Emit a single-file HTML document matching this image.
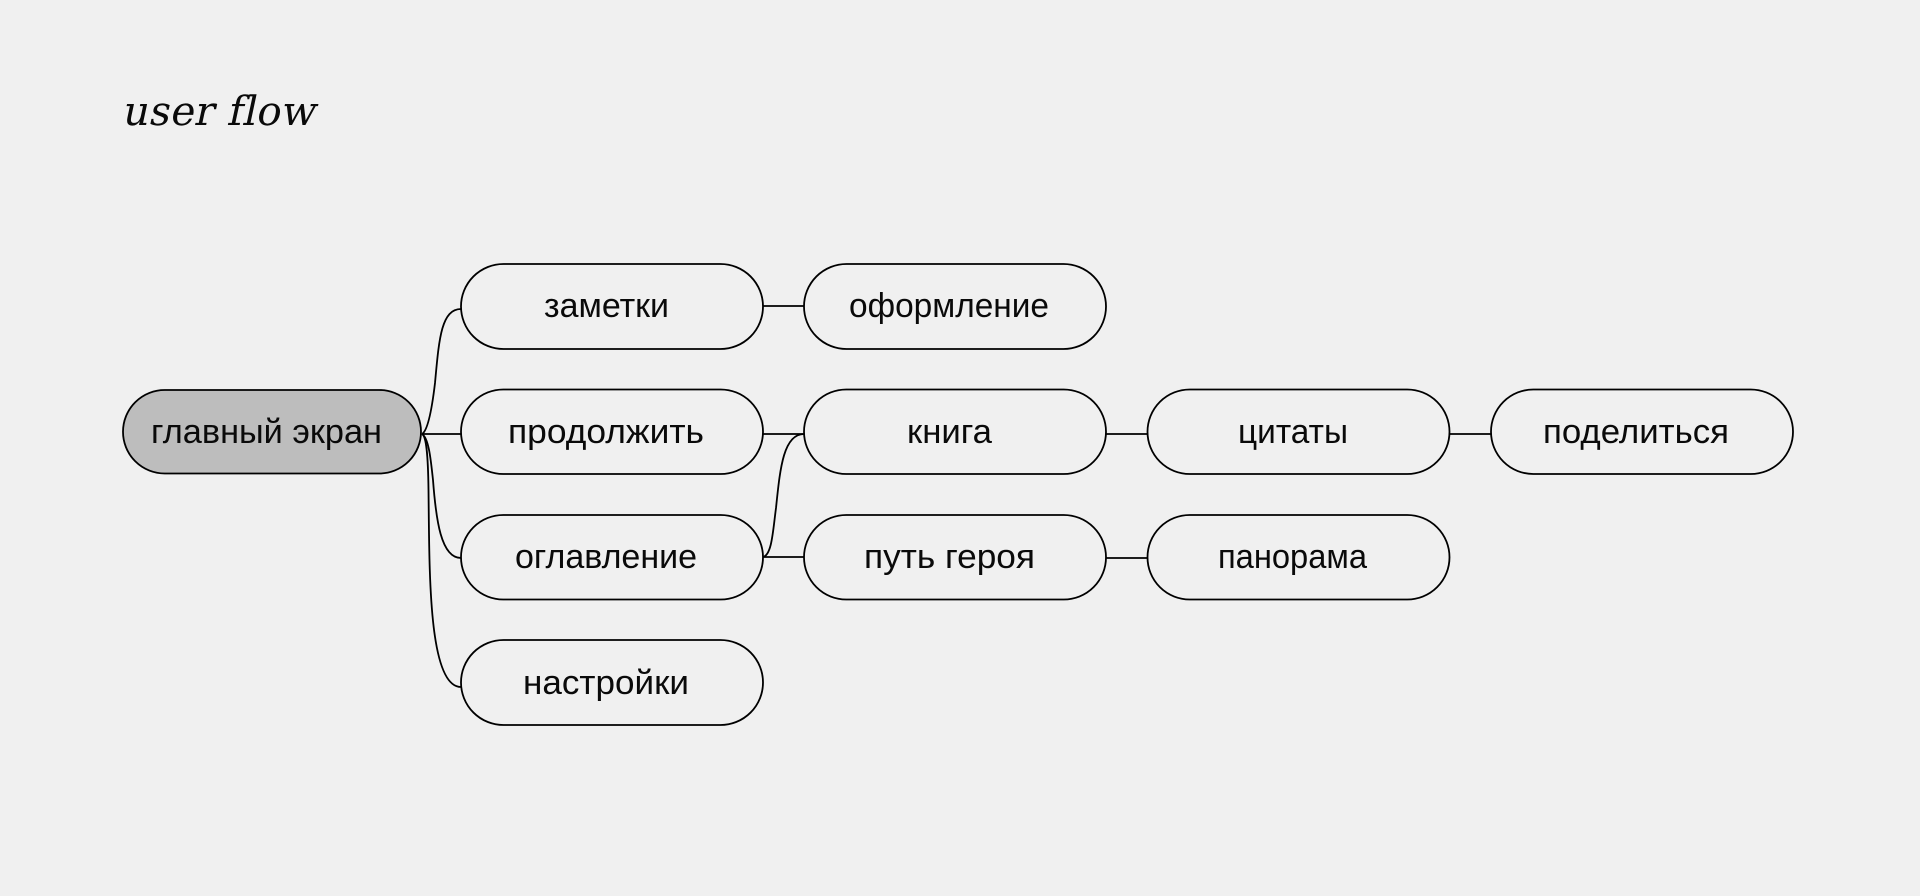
<!DOCTYPE html>
<html lang="ru">
<head>
<meta charset="utf-8">
<title>user flow</title>
<style>
html,body{margin:0;padding:0;width:1920px;height:896px;overflow:hidden;background:#f0f0f0}
svg{display:block}
.t{font-family:"Liberation Sans","DejaVu Sans",sans-serif;font-size:34px;fill:#0a0a0a}
</style>
</head>
<body>
<svg width="1920" height="896" viewBox="0 0 1920 896" xmlns="http://www.w3.org/2000/svg">
<rect width="1920" height="896" fill="#f0f0f0"/>
<text transform="translate(121.500 125) skewX(-12)" x="0" y="0" font-family="'DejaVu Serif',serif" font-size="40.500" fill="#0a0a0a" textLength="193" lengthAdjust="spacing" style="font-variant-ligatures:none">user flow</text>
<g fill="none" stroke="#000" stroke-width="1.8">
<path d="M422 434C429 430 433 400 435 383C439 340 441 309 461 309"/>
<path d="M422 434H461"/>
<path d="M422 434C429 438 431 462 433 480C436 520 441 558 461 558"/>
<path d="M422 434C426 436 428 452 428.500 490C429.500 570 428 687 461 687"/>
<path d="M763 306H804"/>
<path d="M763 434H804"/>
<path d="M763 557H804"/>
<path d="M763 557C772 555 773 530 776 508C780 470 783 434 804 434"/>
<path d="M1106 434H1147"/>
<path d="M1106 558H1147"/>
<path d="M1449 434H1491"/>
<rect x="123" y="390" width="298" height="83.500" rx="41.750" fill="#bdbdbd"/>
<rect x="461" y="264" width="302" height="85" rx="42.500"/>
<rect x="461" y="389.500" width="302" height="84.500" rx="42.250"/>
<rect x="461" y="515" width="302" height="84.500" rx="42.250"/>
<rect x="461" y="640" width="302" height="85" rx="42.500"/>
<rect x="804" y="264" width="302" height="85" rx="42.500"/>
<rect x="804" y="389.500" width="302" height="84.500" rx="42.250"/>
<rect x="804" y="515" width="302" height="84.500" rx="42.250"/>
<rect x="1147.500" y="389.500" width="302" height="84.500" rx="42.250"/>
<rect x="1147.500" y="515" width="302" height="84.500" rx="42.250"/>
<rect x="1491" y="389.500" width="302" height="84.500" rx="42.250"/>
</g>
<g class="t">
<text class="t" x="151" y="443" textLength="231" lengthAdjust="spacingAndGlyphs">главный экран</text>
<text class="t" x="544" y="317" textLength="125" lengthAdjust="spacingAndGlyphs">заметки</text>
<text class="t" x="508" y="443" textLength="196" lengthAdjust="spacingAndGlyphs">продолжить</text>
<text class="t" x="515" y="568" textLength="182" lengthAdjust="spacingAndGlyphs">оглавление</text>
<text class="t" x="523" y="694" textLength="166" lengthAdjust="spacingAndGlyphs">настройки</text>
<text class="t" x="849" y="317" textLength="200" lengthAdjust="spacingAndGlyphs">оформление</text>
<text class="t" x="907" y="443" textLength="85" lengthAdjust="spacingAndGlyphs">книга</text>
<text class="t" x="864" y="568" textLength="171" lengthAdjust="spacingAndGlyphs">путь героя</text>
<text class="t" x="1238" y="443" textLength="110" lengthAdjust="spacingAndGlyphs">цитаты</text>
<text class="t" x="1218" y="568" textLength="149" lengthAdjust="spacingAndGlyphs">панорама</text>
<text class="t" x="1543" y="443" textLength="186" lengthAdjust="spacingAndGlyphs">поделиться</text>
</g>
</svg>
</body>
</html>
